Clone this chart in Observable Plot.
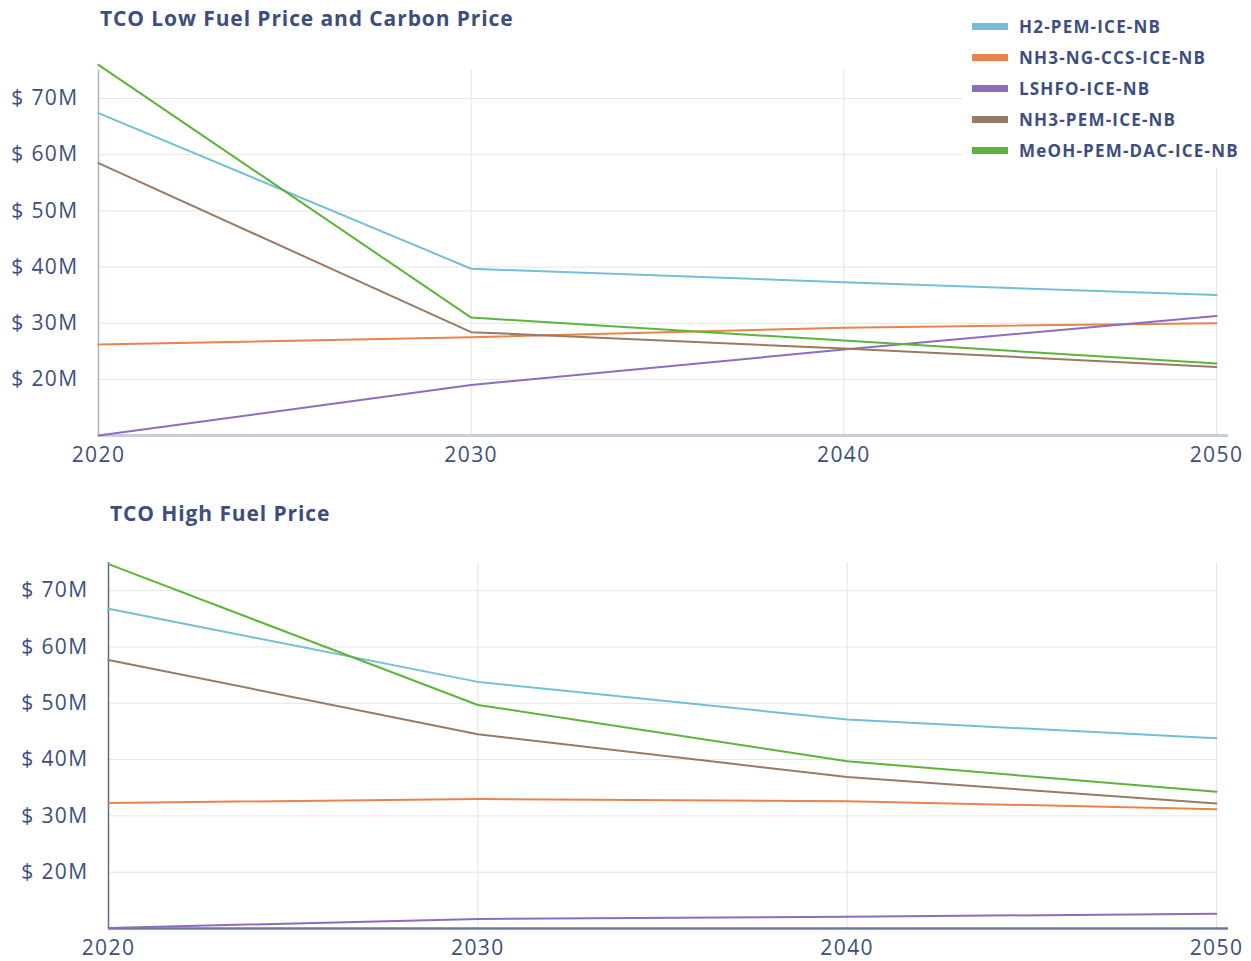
<!DOCTYPE html>
<html>
<head>
<meta charset="utf-8">
<script src="https://cdn.jsdelivr.net/npm/d3@7"></script>
<script src="https://cdn.jsdelivr.net/npm/@observablehq/plot@0.6"></script>
<style>
  html, body { margin: 0; padding: 0; background: #fff; }
  #wrap { position: relative; width: 1251px; height: 961px; overflow: hidden; font-family: "Open Sans", sans-serif; color: #3d4e7e; }
  .title { position: absolute; font-weight: 700; font-size: 21px; line-height: 21px; letter-spacing: 0.9px; white-space: nowrap; }
  #legend { position: absolute; left: 962px; top: 8px; width: 289px; height: 160px; background: #fff; }
  .row { position: absolute; left: 10px; height: 20px; display: flex; align-items: center; font-weight: 700; font-size: 17px; letter-spacing: 1.2px; white-space: nowrap; }
  .sw { width: 36px; height: 7px; margin-right: 11px; }
  svg { display: block; }
</style>
</head>
<body>
<div id="wrap">
  <div id="top"></div>
  <div id="bottom"></div>
</div>
<script>
// ---- data ----
const years = [2020, 2030, 2040, 2050];
const seriesNames = ["H2-PEM-ICE-NB", "NH3-NG-CCS-ICE-NB", "LSHFO-ICE-NB", "NH3-PEM-ICE-NB", "MeOH-PEM-DAC-ICE-NB"];
const seriesColors = ["#74bfd8", "#e8834c", "#8d6cc0", "#9a7a62", "#5bb539"];
const yTicks = [20, 30, 40, 50, 60, 70];

// TCO Low Fuel Price and Carbon Price ($M)
const lowH2 = [67.4, 39.7, 37.3, 35.0];
const lowNH3NG = [26.2, 27.5, 29.2, 30.0];
const lowLSHFO = [10.0, 19.0, 25.3, 31.3];
const lowNH3PEM = [58.5, 28.4, 25.5, 22.2];
const lowMeOH = [76.0, 31.0, 26.9, 22.8];

// TCO High Fuel Price ($M)
const highH2 = [66.8, 53.8, 47.1, 43.8];
const highNH3NG = [32.3, 33.0, 32.6, 31.2];
const highLSHFO = [10.1, 11.7, 12.1, 12.6];
const highNH3PEM = [57.7, 44.5, 36.9, 32.2];
const highMeOH = [74.7, 49.7, 39.7, 34.3];

const titleLow = "TCO Low Fuel Price and Carbon Price";
const titleHigh = "TCO High Fuel Price";

function toRows(arrays) {
  const rows = [];
  arrays.forEach((vals, i) => vals.forEach((v, j) => rows.push({series: seriesNames[i], year: years[j], value: v})));
  return rows;
}
const lowData = toRows([lowH2, lowNH3NG, lowLSHFO, lowNH3PEM, lowMeOH]);
const highData = toRows([highH2, highNH3NG, highLSHFO, highNH3PEM, highMeOH]);

function chart(data, opts) {
  return Plot.plot({
    width: 1251,
    height: opts.height,
    marginTop: opts.mt,
    marginBottom: opts.mb,
    marginLeft: opts.ml,
    marginRight: 35,
    style: {fontFamily: "Open Sans", fontSize: "21px", color: "#3d4e7e", letterSpacing: "1.4px", background: "white"},
    x: {domain: [2020, 2050], axis: null, label: null},
    y: {domain: [10, 75], axis: null, label: null},
    color: {domain: seriesNames, range: seriesColors},
    marks: [
      Plot.gridY(yTicks, {stroke: "#e4e4e4", strokeOpacity: 1}),
      Plot.gridX(years.slice(1), {stroke: "#e4e4e4", strokeOpacity: 1}),
      Plot.ruleX([2020], {stroke: opts.leftColor, strokeWidth: 1.5}),
      Plot.ruleY([10], {stroke: opts.axisColor, strokeWidth: opts.axisWidth, insetRight: -12}),
      Plot.line(data, {x: "year", y: "value", z: "series", stroke: "series", strokeWidth: 2}),
      Plot.axisY(yTicks, {tickSize: 0, tickPadding: 20, label: null, tickFormat: d => `$ ${d}M`, fill: "#3d4e7e"}),
      Plot.axisX(years, {tickSize: 0, tickPadding: 12, label: null, tickFormat: d => String(d), fill: "#3d4e7e"})
    ]
  });
}

const topChart = chart(lowData, {height: 480, mt: 70, mb: 45, ml: 98, leftColor: "#aab2cc", axisColor: "#c9cdda", axisWidth: 3});
const bottomChart = chart(highData, {height: 481, mt: 82, mb: 33, ml: 108, leftColor: "#5f6a8e", axisColor: "#6f7a98", axisWidth: 2.5});
document.getElementById("top").appendChild(topChart);
document.getElementById("bottom").appendChild(bottomChart);

const wrap = document.getElementById("wrap");
function addTitle(text, left, top) {
  const t = document.createElement("div");
  t.className = "title";
  t.style.left = left + "px";
  t.style.top = top + "px";
  t.textContent = text;
  wrap.appendChild(t);
}
addTitle(titleLow, 100, 8);
addTitle(titleHigh, 110, 503);

const legend = document.createElement("div");
legend.id = "legend";
seriesNames.forEach((name, i) => {
  const r = document.createElement("div");
  r.className = "row";
  r.style.top = (8 + i * 31.2) + "px";
  const sw = document.createElement("div");
  sw.className = "sw";
  sw.style.background = seriesColors[i];
  const label = document.createElement("span");
  label.textContent = name;
  r.appendChild(sw);
  r.appendChild(label);
  legend.appendChild(r);
});
wrap.appendChild(legend);
</script>
</body>
</html>
